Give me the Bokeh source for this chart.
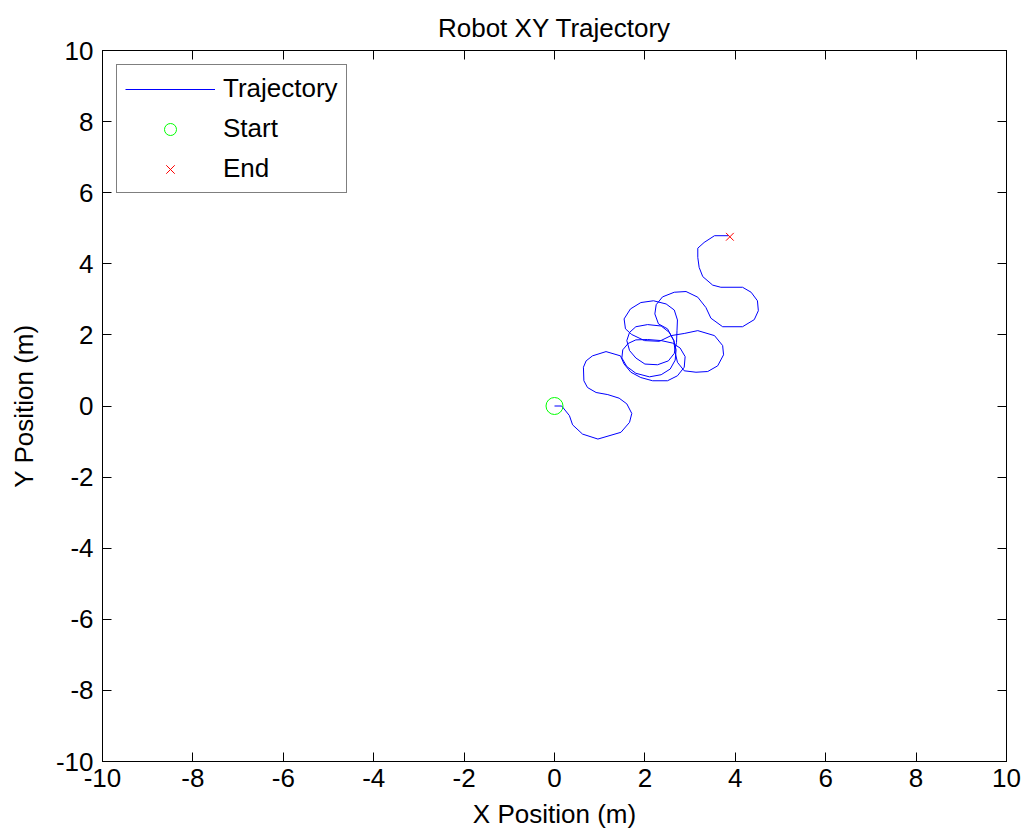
from bokeh.plotting import figure
from bokeh.models import Range1d, FixedTicker, LinearAxis, CustomJSTickFormatter
from bokeh.embed import file_html
from bokeh.resources import INLINE

# Robot path in metres
path_x = [0.00, 0.16, 0.33, 0.40, 0.62, 0.96, 1.47, 1.66, 1.71, 1.60, 1.43, 1.18, 0.92, 0.73,
          0.65, 0.64, 0.70, 0.84, 1.14, 1.46,
          1.54, 1.69, 1.91, 2.17, 2.50, 2.72, 2.87, 2.89, 2.78, 2.61, 2.36, 2.06, 1.80, 1.63,
          1.51, 1.49, 1.60, 1.80, 2.10, 2.36, 2.56, 2.67, 2.69, 2.64, 2.54, 2.36, 2.06, 1.80,
          1.66, 1.60, 1.66, 1.80, 2.00, 2.28, 2.52, 2.65, 2.70, 2.71, 2.72, 2.65, 2.47, 2.19,
          1.91, 1.68, 1.54, 1.57, 1.71, 1.99, 2.32, 2.58, 2.87, 3.17, 3.54, 3.72, 3.74, 3.61,
          3.39, 3.13, 2.87, 2.72, 2.67, 2.64, 2.50, 2.30, 2.22, 2.25, 2.39, 2.65, 2.91, 3.17,
          3.35, 3.46, 3.72, 4.16, 4.42, 4.51, 4.49, 4.35, 4.16, 3.68, 3.50, 3.28, 3.20, 3.17,
          3.17, 3.31, 3.54, 3.85]
path_y = [0.00, 0.00, -0.27, -0.53, -0.79, -0.93, -0.74, -0.46, -0.21, 0.06, 0.22, 0.32, 0.38, 0.52,
          0.71, 1.09, 1.27, 1.41, 1.53, 1.41,
          1.18, 0.95, 0.80, 0.71, 0.71, 0.85, 1.09, 1.39, 1.63, 1.77, 1.84, 1.87, 1.86, 1.76,
          1.58, 1.35, 1.11, 0.92, 0.82, 0.88, 1.04, 1.29, 1.58, 1.84, 2.07, 2.25, 2.29, 2.23,
          2.07, 1.84, 1.56, 1.35, 1.18, 1.16, 1.27, 1.48, 1.79, 2.12, 2.42, 2.70, 2.87, 2.96,
          2.91, 2.73, 2.45, 2.17, 2.01, 1.84, 1.82, 1.98, 2.04, 2.12, 1.98, 1.70, 1.44, 1.13,
          0.97, 0.95, 0.99, 1.23, 1.51, 1.84, 2.17, 2.31, 2.59, 2.85, 3.07, 3.20, 3.22, 3.06,
          2.77, 2.47, 2.23, 2.23, 2.43, 2.68, 2.96, 3.20, 3.34, 3.34, 3.40, 3.64, 3.90, 4.18,
          4.44, 4.60, 4.79, 4.79]

start_x = [0.0]
start_y = [0.0]
end_x = [3.88]
end_y = [4.76]

ticks = [-10, -8, -6, -4, -2, 0, 2, 4, 6, 8, 10]

FONT = "Liberation Sans"
FSIZE = "26px"

p = figure(frame_width=904, frame_height=711,
           min_border_left=102, min_border_right=22, min_border_top=50, min_border_bottom=75,
           x_range=Range1d(-10, 10), y_range=Range1d(-10, 10),
           output_backend="svg", toolbar_location=None,
           title="Robot XY Trajectory")

p.background_fill_color = "white"
p.border_fill_color = "white"
p.outline_line_color = "black"
p.outline_line_width = 1
p.grid.visible = False

p.title.text_font = FONT
p.title.text_font_size = FSIZE
p.title.text_font_style = "normal"
p.title.align = "center"
p.title.text_color = "#000000"
p.title.offset = 0
p.title.standoff = 15

bottom_axis = p.below[0]
left_axis = p.left[0]

p.line(path_x, path_y, line_color="#0000ff", line_width=1, legend_label="Trajectory")
p.scatter(start_x, start_y, marker="circle", size=17, fill_color=None,
          line_color="#00ff00", line_width=1, legend_label="Start")
p.scatter(end_x, end_y, marker="x", size=11, line_color="#ff0000",
          line_width=1, legend_label="End")

# MATLAB-style box: inward ticks on all four sides
top_axis = LinearAxis()
right_axis = LinearAxis()
p.add_layout(top_axis, "above")
p.add_layout(right_axis, "right")

plain_minus = CustomJSTickFormatter(code="return tick.toString();")

for ax in [bottom_axis, left_axis, top_axis, right_axis]:
    ax.ticker = FixedTicker(ticks=ticks)
    ax.major_tick_in = 9
    ax.major_tick_out = 0
    ax.minor_tick_line_color = None
    ax.axis_line_color = "black"
    ax.major_tick_line_color = "black"
    ax.major_label_text_font = FONT
    ax.major_label_text_font_size = FSIZE
    ax.major_label_text_color = "black"
    ax.axis_label_text_font = FONT
    ax.axis_label_text_font_size = FSIZE
    ax.axis_label_text_font_style = "normal"
    ax.axis_label_text_color = "black"

bottom_axis.formatter = plain_minus
left_axis.formatter = plain_minus

# top and right axes only carry tick marks
for ax in [top_axis, right_axis]:
    ax.major_label_text_font_size = "1px"
    ax.major_label_text_color = None
    ax.major_label_standoff = 0

bottom_axis.axis_label = "X Position (m)"
left_axis.axis_label = "Y Position (m)"
bottom_axis.major_label_standoff = 7
left_axis.major_label_standoff = 9
bottom_axis.axis_label_standoff = 9
left_axis.axis_label_standoff = 14

lg = p.legend[0]
lg.location = "top_left"
lg.margin = 14
lg.padding = 8
lg.spacing = 9
lg.glyph_width = 90
lg.glyph_height = 30
lg.label_height = 30
lg.label_standoff = 8
lg.label_text_font = FONT
lg.label_text_font_size = FSIZE
lg.label_text_color = "black"
lg.border_line_color = "black"
lg.border_line_width = 1
lg.background_fill_color = "white"
lg.background_fill_alpha = 1.0

open("out.html", "w").write(file_html(p, INLINE))
